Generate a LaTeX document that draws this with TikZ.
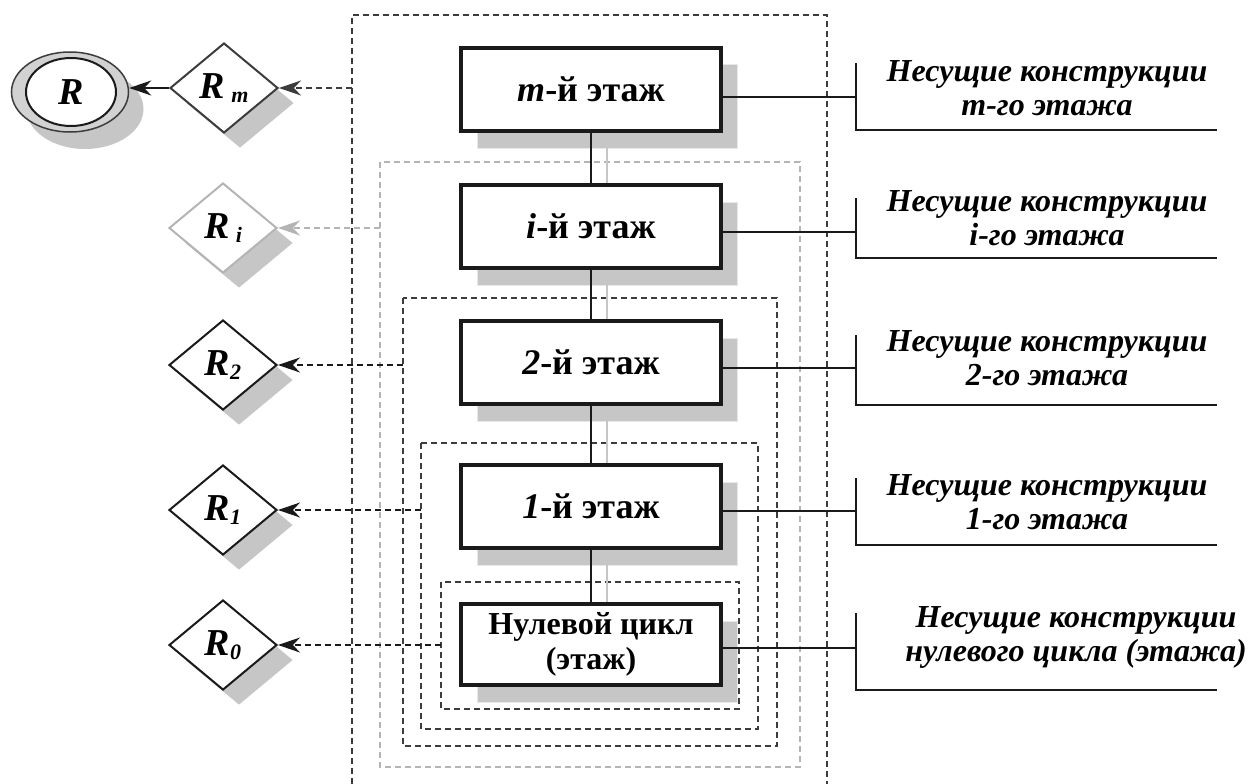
\documentclass[tikz,border=0pt]{standalone}
\usepackage{fontspec}
\setmainfont{Liberation Serif}
\usetikzlibrary{shapes.geometric,arrows.meta,shadows}

\definecolor{ink}{HTML}{1A1A1A}
\definecolor{darkgrey}{HTML}{3C3C3C}
\definecolor{lightgrey}{HTML}{B4B4B4}
\definecolor{shade}{HTML}{C6C6C6}
\definecolor{ringgrey}{HTML}{D2D2D2}

\newcommand\floorfont{\fontsize{36}{38}\selectfont\bfseries}
\newcommand\basefont{\fontsize{32}{35}\selectfont\bfseries}
\newcommand\notefont{\fontsize{32}{34}\selectfont\bfseries\itshape}
\newcommand\condfont{\fontsize{38}{40}\selectfont\bfseries\itshape}
\newcommand\subm[1]{\raisebox{-0.25ex}{\fontsize{22}{22}\selectfont #1}}

\begin{document}
\begin{tikzpicture}[x=1pt,y=-1pt,
  floor/.style={draw=ink,line width=4pt,fill=white,minimum width=260pt,
    minimum height=83pt,inner sep=0pt,align=center,font=\floorfont,
    drop shadow={shadow xshift=16pt,shadow yshift=-17pt,fill=shade,
      draw=white!60!shade,line width=1pt,opacity=1}},
  cond/.style={shape=diamond,draw=#1,line width=2pt,fill=white,
    minimum width=108pt,minimum height=90pt,inner sep=0pt,font=\condfont,
    drop shadow={shadow xshift=16pt,shadow yshift=-15pt,fill=shade,opacity=1}},
  note/.style={align=center,font=\notefont,inner sep=0pt},
  frame/.style={draw=#1,line width=1.5pt,dash pattern=on 6pt off 4pt},
  feed/.style={draw=#1,line width=1.5pt,dash pattern=on 6pt off 4pt,
    -{Stealth[length=22pt,width=15pt,inset=7pt]}},
  link/.style={draw=ink,line width=2.5pt},
  ghostlink/.style={draw=shade,line width=2.5pt},
  tie/.style={draw=ink,line width=1.8pt},
]
\useasboundingbox (0,0) rectangle (1250,784);

% nested dashed contours
\draw[frame=darkgrey] (352,784) -- (352,15) -- (827,15) -- (827,784);
\draw[frame=lightgrey] (380,162) rectangle (800,767);
\draw[frame=darkgrey] (403,298) rectangle (777,746);
\draw[frame=darkgrey] (421,443) rectangle (758,729);
\draw[frame=darkgrey] (441,582) rectangle (739,709);

% floors
\node[floor] (fm) at (591,89.5) {\textit{m}-й этаж};
\node[floor] (fi) at (591,226.5) {\textit{i}-й этаж};
\node[floor] (f2) at (591,362.5) {\textit{2}-й этаж};
\node[floor] (f1) at (591,506.5) {\textit{1}-й этаж};
\node[floor,minimum height=81pt,font=\basefont] (f0) at (591,644.5)
  {Нулевой цикл\\(этаж)};

% vertical links between floors and their shadow traces
\foreach \a/\b in {fm/fi,fi/f2,f2/f1,f1/f0}{
  \draw[ghostlink] ([xshift=16pt]\a.south) -- ([xshift=16pt]\b.north);
  \draw[link] (\a.south) -- (\b.north);
}

% reliability diamonds
\node[cond=darkgrey] (Rm) at (224,88) {R\,\subm{m}};
\node[cond=lightgrey] (Ri) at (223,228) {R\,\subm{i}};
\node[cond=ink] (R2) at (223,365) {R\subm{2}};
\node[cond=ink] (R1) at (223,510) {R\subm{1}};
\node[cond=ink] (R0) at (223,645) {R\subm{0}};

% total reliability
\node[ellipse,draw=darkgrey,line width=1.5pt,fill=ringgrey,minimum width=117pt,
  minimum height=80pt,drop shadow={shadow xshift=15pt,shadow yshift=-17pt,
  fill=shade,opacity=1}] (Rring) at (70,92) {};
\node[ellipse,draw=ink,line width=2pt,fill=white,minimum width=90pt,
  minimum height=68pt,inner sep=0pt,font=\condfont] (R) at (71,92) {R};

\draw[draw=ink,line width=1.8pt,-{Stealth[length=22pt,width=15pt,inset=7pt]}]
  (Rm.west) -- (Rring.east |- Rm.west);

% feeds from contours to diamonds
\coordinate (sm) at (352,88);
\coordinate (si) at (380,228);
\coordinate (s2) at (403,365);
\coordinate (s1) at (421,510);
\coordinate (s0) at (441,645);
\draw[feed=darkgrey] (sm) -- (Rm.east);
\draw[feed=lightgrey] (si) -- (Ri.east);
\draw[feed=ink] (s2) -- (R2.east);
\draw[feed=ink] (s1) -- (R1.east);
\draw[feed=ink] (s0) -- (R0.east);

% load-bearing structures with brackets
\coordinate (bm) at (856,97);
\coordinate (bi) at (856,232);
\coordinate (b2) at (856,368);
\coordinate (b1) at (856,511);
\coordinate (b0) at (856,648);
\draw[tie] (fm.east |- bm) -- (bm);
\draw[tie] (fi.east |- bi) -- (bi);
\draw[tie] (f2.east |- b2) -- (b2);
\draw[tie] (f1.east |- b1) -- (b1);
\draw[tie] (f0.east |- b0) -- (b0);
\draw[tie] ([yshift=34pt]bm) -- ([yshift=-33pt]bm) -- ++(361,0);
\draw[tie] ([yshift=34pt]bi) -- ([yshift=-26pt]bi) -- ++(361,0);
\draw[tie] ([yshift=33pt]b2) -- ([yshift=-37pt]b2) -- ++(361,0);
\draw[tie] ([yshift=33pt]b1) -- ([yshift=-34pt]b1) -- ++(361,0);
\draw[tie] ([yshift=35pt]b0) -- ([yshift=-42pt]b0) -- ++(361,0);

\node[note] (nm) at (1047,88) {Несущие конструкции\\m-го этажа};
\node[note] (ni) at (1047,218) {Несущие конструкции\\i-го этажа};
\node[note] (n2) at (1047,358) {Несущие конструкции\\2-го этажа};
\node[note] (n1) at (1047,502) {Несущие конструкции\\1-го этажа};
\node[note] (n0) at (1076,637) {Несущие конструкции\\нулевого цикла (этажа)};
\end{tikzpicture}
\end{document}
